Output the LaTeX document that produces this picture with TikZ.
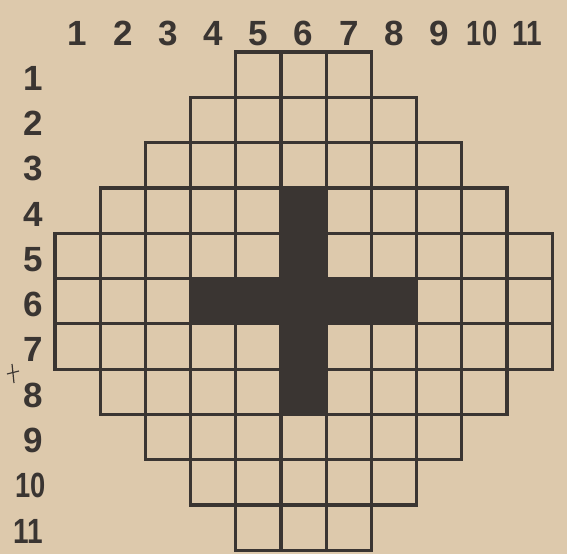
\documentclass[tikz,border=0pt]{standalone}
\usepackage{fontspec}
\usepackage{graphicx}
\setmainfont{Liberation Sans}
\usetikzlibrary{positioning}
\definecolor{paper}{HTML}{DDC9AC}
\definecolor{ink}{HTML}{3A3532}

\begin{document}
\begin{tikzpicture}[x=1pt,y=-1pt,font=\fontsize{35}{35}\selectfont\bfseries]
  \tikzstyle{cell}=[draw=ink,line width=3.2pt]
  \tikzstyle{lab}=[text=ink,inner sep=0pt,anchor=base]
  \fill[paper] (0,0) rectangle (567,554);
  \useasboundingbox (0,0) rectangle (567,554);
  % cells, row by row, half width around column 6
  \foreach \r/\w in {1/1,2/2,3/3,4/4,5/5,6/5,7/5,8/4,9/3,10/2,11/1}{
    \foreach \c in {-\w,...,\w}{
      \draw[cell] ({55+(5+\c)*45.2},{52+(\r-1)*45.3}) rectangle ++(45.2,45.3);
    }
  }
  % black cross
  \filldraw[ink,line width=3.2pt,line join=miter]
    (281,187.9) -- (326.2,187.9) -- (326.2,278.5) -- (416.6,278.5) -- (416.6,323.8)
    -- (326.2,323.8) -- (326.2,414.4) -- (281,414.4) -- (281,323.8) -- (190.6,323.8)
    -- (190.6,278.5) -- (281,278.5) -- cycle;
  % column numbers
  \foreach \i in {1,...,9}
    \node[lab] (col\i) at ({55+(\i-0.5)*45.2},45) {\i};
  \node[lab] (col10) at (482,45) {\scalebox{0.78}[1]{10}};
  \node[lab] (col11) at (527,45) {\scalebox{0.8}[1]{11}};
  % row numbers
  \foreach \i in {1,...,9}
    \node[lab] (row\i) at (33,{52+(\i-0.5)*45.3+15.5}) {\i};
  \node[lab] (row10) at (31,{52+9.5*45.3+15.5}) {\scalebox{0.78}[1]{10}};
  \node[lab] (row11) at (28,{52+10.5*45.3+15.5}) {\scalebox{0.8}[1]{11}};
  % stray pen mark
  \draw[ink,line width=1.2pt] (12,364) -- (14,383);
  \draw[ink,line width=1.2pt] (7,374) -- (19,371);
\end{tikzpicture}
\end{document}
